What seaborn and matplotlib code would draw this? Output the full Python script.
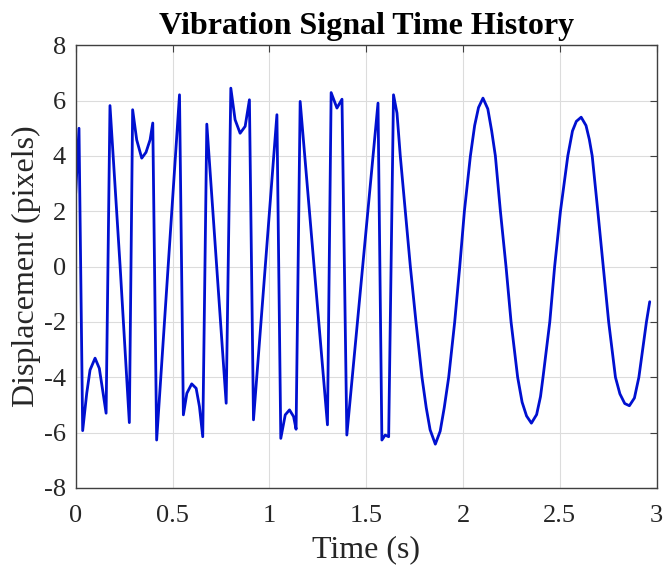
import matplotlib
matplotlib.use("Agg")
import matplotlib.pyplot as plt
import seaborn as sns
import pandas as pd

# ---- data ----
time_s = [
    0.000, 0.017, 0.036, 0.057, 0.074, 0.100, 0.122, 0.139, 0.157,
    0.177, 0.229, 0.277, 0.294, 0.315, 0.341, 0.363, 0.384, 0.398,
    0.418, 0.536, 0.556, 0.574, 0.599, 0.622, 0.639, 0.656,
    0.677, 0.777, 0.801, 0.823, 0.849, 0.875, 0.897, 0.918,
    1.039, 1.059, 1.082, 1.104, 1.125, 1.138, 1.159, 1.300, 1.319,
    1.349, 1.375, 1.400, 1.561, 1.581, 1.598, 1.616, 1.641,
    1.659, 1.676, 1.702, 1.728, 1.757, 1.788, 1.810, 1.830, 1.857,
    1.882, 1.903, 1.926, 1.957, 1.983, 2.007, 2.038, 2.060, 2.080,
    2.103, 2.128, 2.148, 2.167, 2.193, 2.222, 2.248, 2.282, 2.305,
    2.328, 2.353, 2.380, 2.400, 2.413, 2.448, 2.473, 2.503, 2.541,
    2.565, 2.585, 2.610, 2.635, 2.652, 2.667, 2.696, 2.724, 2.752,
    2.787, 2.810, 2.835, 2.859, 2.885, 2.908, 2.947, 2.964,
]
displacement_px = [
    2.65, 5.00, -5.93, -4.58, -3.74, -3.31, -3.68, -4.46, -5.30,
    5.82, 0.05, -5.64, 5.67, 4.58, 3.92, 4.13, 4.58, 5.19,
    -6.27, 6.21, -5.36, -4.58, -4.24, -4.40, -5.06, -6.15,
    5.15, -4.94, 6.45, 5.31, 4.82, 5.07, 6.03, -5.54,
    5.49, -6.21, -5.36, -5.18, -5.42, -5.88, 5.97, -5.72, 6.29,
    5.73, 6.05, -6.09, 5.91, -6.27, -6.09, -6.15, 6.21,
    5.55, 4.00, 2.00, 0.00, -2.00, -4.00, -5.10, -5.90, -6.42,
    -5.95, -5.10, -4.00, -2.00, 0.00, 2.00, 4.00, 5.10, 5.75,
    6.09, 5.70, 4.90, 4.00, 2.00, 0.00, -2.00, -4.00, -4.90,
    -5.40, -5.66, -5.35, -4.70, -4.00, -2.00, 0.00, 2.00, 4.00,
    4.90, 5.25, 5.40, 5.10, 4.60, 4.00, 2.00, 0.00, -2.00,
    -4.00, -4.60, -4.95, -5.03, -4.75, -4.00, -2.00, -1.27,
]
x_ticks = [0, 0.5, 1, 1.5, 2, 2.5, 3]
x_tick_labels = ["0", "0.5", "1", "1.5", "2", "2.5", "3"]
y_ticks = [-8, -6, -4, -2, 0, 2, 4, 6, 8]
y_tick_labels = ["-8", "-6", "-4", "-2", "0", "2", "4", "6", "8"]

df = pd.DataFrame({"Time (s)": time_s, "Displacement (pixels)": displacement_px})

sns.set_theme(style="whitegrid")
plt.rcParams["font.family"] = ["Liberation Serif", "DejaVu Serif"]

fig = plt.figure(figsize=(6.64, 5.66), dpi=100)
ax = fig.add_axes([0.114, 0.138, 0.875, 0.782])

sns.lineplot(data=df, x="Time (s)", y="Displacement (pixels)", ax=ax,
             color="#0010D0", linewidth=2.0, sort=False, estimator=None)

ax.set_xlim(0, 3)
ax.set_ylim(-8, 8)
ax.set_xticks(x_ticks)
ax.set_xticklabels(x_tick_labels)
ax.set_yticks(y_ticks)
ax.set_yticklabels(y_tick_labels)

ax.grid(True, color="#dcdcdc", linewidth=0.8)
ax.set_facecolor("white")
for s in ax.spines.values():
    s.set_visible(True)
    s.set_color("#404040")
    s.set_linewidth(1.0)

ax.tick_params(axis="both", which="both", direction="in", length=5,
               width=0.8, color="#404040", top=True, right=True,
               labelsize=19, labelcolor="#262626", pad=7)
ax.tick_params(axis="x", pad=12)

ax.set_xlabel("Time (s)", fontsize=23, color="#262626", labelpad=6)
ax.set_ylabel("Displacement (pixels)", fontsize=23, color="#262626", labelpad=2)
ax.set_title("Vibration Signal Time History", fontsize=23, fontweight="bold",
             color="black", pad=8)

fig.savefig("out.png", dpi=100, facecolor="white")
